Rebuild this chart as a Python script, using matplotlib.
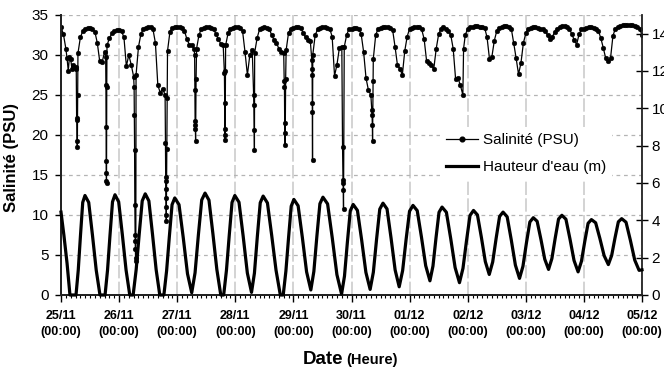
import numpy as np
import matplotlib.pyplot as plt
from matplotlib.ticker import MultipleLocator
from matplotlib.lines import Line2D

plt.rcParams['font.family'] = 'Liberation Sans'

# Day labels on the time axis (hours since 25/11 00:00)
day_labels = ['25/11', '26/11', '27/11', '28/11', '29/11', '30/11',
              '01/12', '02/12', '03/12', '04/12', '05/12']

# Salinity (PSU), hourly readings from t = 0 h to t = 240 h
sal_hourly = [
    # 25/11
    33.5, 32.6, 30.8, 28.0, 29.5, 28.8, 28.5, 30.2, 32.2, 33.0, 33.3, 33.4,
    33.4, 33.3, 32.9, 31.5, 29.2, 29.1, 30.4, 31.2, 32.1, 32.7, 33.0, 33.1,
    # 26/11
    33.1, 33.0, 32.2, 28.6, 30.0, 28.8, 27.3, 27.5, 31.0, 32.6, 33.3, 33.4,
    33.5, 33.5, 33.2, 31.5, 26.2, 25.3, 25.8, 25.0, 30.5, 32.9, 33.4, 33.5,
    # 27/11
    33.5, 33.5, 33.4, 33.0, 32.0, 31.3, 31.2, 30.8, 30.8, 32.5, 33.3, 33.4,
    33.5, 33.5, 33.4, 33.3, 32.6, 32.0, 31.4, 31.2, 31.2, 32.7, 33.3, 33.4,
    # 28/11
    33.5, 33.5, 33.4, 33.0, 30.4, 27.5, 30.0, 30.6, 30.3, 32.1, 33.2, 33.4,
    33.5, 33.4, 33.3, 32.5, 31.9, 31.5, 30.8, 30.4, 30.2, 30.6, 32.8, 33.3,
    # 29/11
    33.4, 33.5, 33.5, 33.4, 32.8, 32.2, 31.9, 31.7, 30.0, 32.5, 33.2, 33.4,
    33.5, 33.5, 33.4, 33.3, 32.3, 27.4, 28.8, 30.9, 31.0, 31.0, 32.5, 33.3,
    # 30/11
    33.3, 33.4, 33.4, 33.3, 32.6, 30.4, 27.1, 25.6, 25.0, 29.5, 32.5, 33.3,
    33.4, 33.5, 33.5, 33.5, 33.4, 33.1, 31.0, 28.7, 28.3, 27.5, 30.5, 32.3,
    # 01/12
    33.3, 33.4, 33.5, 33.5, 33.5, 33.2, 32.0, 29.3, 29.0, 28.7, 28.3, 30.8,
    32.6, 33.3, 33.5, 33.3, 33.0, 32.5, 30.8, 27.0, 27.1, 26.2, 25.0, 32.5,
    # 02/12
    33.3, 33.5, 33.5, 33.6, 33.6, 33.5, 33.5, 33.4, 32.2, 29.5, 29.8, 31.8,
    33.0, 33.4, 33.5, 33.6, 33.6, 33.5, 33.3, 31.5, 29.6, 27.6, 29.0, 31.5,
    # 03/12
    32.7, 33.3, 33.4, 33.5, 33.5, 33.4, 33.3, 33.3, 33.0, 32.5, 32.0, 32.3,
    32.9, 33.3, 33.5, 33.6, 33.6, 33.5, 33.3, 32.6, 31.9, 31.3, 32.6, 33.2,
    # 04/12 and 05/12 00:00
    33.3, 33.4, 33.5, 33.5, 33.4, 33.3, 33.0, 32.1, 30.9, 29.6, 29.3, 29.6,
    32.4, 33.3, 33.5, 33.6, 33.7, 33.7, 33.7, 33.7, 33.7, 33.6, 33.5, 33.3,
    32.5,
]

# Short salinity drops near low water, sampled finer than hourly
drop_t = [2.5, 3.5, 4.5,
          6.3, 6.45, 6.55, 6.65, 6.75, 6.9,
          18.45, 18.55, 18.6, 18.65, 18.7, 18.75, 18.8, 18.9,
          30.2, 30.3, 30.4, 30.5, 30.6, 30.65, 30.7, 30.8, 30.9,
          43.15, 43.2, 43.25, 43.3, 43.35, 43.4, 43.45, 43.5, 43.7, 43.85,
          55.2, 55.3, 55.4, 55.45, 55.5, 55.6, 55.8,
          67.5, 67.6, 67.7, 67.75, 67.8, 67.95,
          79.6, 79.7, 79.8, 79.9,
          92.2, 92.3, 92.4, 92.5, 92.6, 92.8,
          103.6, 103.7, 103.75, 103.8, 103.85, 103.9,
          116.3, 116.45, 116.5, 116.6, 116.7,
          128.4, 128.5, 128.6, 128.7, 128.9,
          166.3]
drop_v = [29.6, 29.8, 28.3,
          28.2, 22.1, 21.9, 19.2, 18.5, 25.0,
          29.8, 26.2, 21.0, 16.7, 15.2, 14.2, 14.0, 26.0,
          26.0, 22.5, 18.1, 11.2, 7.5, 6.7, 5.8, 4.6, 4.3,
          19.0, 14.8, 14.2, 13.3, 12.1, 11.0, 10.0, 9.2, 18.3, 24.6,
          30.0, 25.6, 21.7, 21.25, 20.8, 19.2, 27.0,
          27.7, 24.0, 20.8, 20.0, 19.4, 28.0,
          25.0, 23.75, 20.6, 18.1,
          26.7, 26.0, 21.5, 20.2, 18.75, 27.0,
          29.4, 28.3, 27.5, 24.0, 22.9, 16.9,
          18.5, 14.4, 14.0, 13.1, 10.75,
          23.1, 22.5, 21.25, 19.2, 26.7,
          30.8]

# Water height (m): hours and values along the tide curve
tide_t = [0, 1.2, 2.5, 3.7, 6.2, 7.125, 8.05, 8.975,
          9.9, 11.45, 13.0, 14.55, 16.1, 18.2, 19.225, 20.25, 21.275,
          22.3, 23.825, 25.35, 26.875, 28.4, 29.8, 31.05, 32.3, 33.55,
          34.8, 36.3, 37.8, 39.3, 40.8, 42.5, 43.625, 44.75, 45.875,
          47.0, 48.75, 50.5, 52.25, 54.0, 55.375, 56.75, 58.125,
          59.5, 61.125, 62.75, 64.375, 66.0, 67.2, 68.35, 69.5, 70.65,
          71.8, 73.525, 75.25, 76.975, 78.7, 79.9, 81.1, 82.3,
          83.5, 85.275, 87.05, 88.825, 90.6, 91.8, 92.9, 94.0, 95.1,
          96.2, 97.95, 99.7, 101.45, 103.2, 104.45, 105.7, 106.95,
          108.2, 110.125, 112.05, 113.975, 115.9, 117.1, 118.3, 119.5,
          120.7, 122.45, 124.2, 125.95, 127.7, 129.025, 130.35, 131.675,
          133.0, 134.675, 136.35, 138.025, 139.7, 141.125, 142.55, 143.975,
          145.4, 147.15, 148.9, 150.65, 152.4, 153.65, 154.9, 156.15,
          157.4, 159.2, 161.0, 162.8, 164.6, 166.05, 167.5, 168.95,
          170.4, 172.025, 173.65, 175.275, 176.9, 178.325, 179.75, 181.175,
          182.6, 184.3, 186.0, 187.7, 189.4, 190.825, 192.25, 193.675,
          195.1, 196.675, 198.25, 199.825, 201.4, 202.775, 204.15, 205.525,
          206.9, 208.575, 210.25, 211.925, 213.6, 214.975, 216.35, 217.725,
          219.1, 220.85, 222.6, 224.35, 226.1, 227.475, 228.85, 230.225,
          231.6, 233.4, 235.2, 237.0, 238.8, 240.0]
tide_h = [4.44, 3.2, 1.7, 0.0, 0.0, 1.33, 3.20, 4.96,
          5.33, 4.96, 3.20, 1.33, 0.0, 0.0, 1.34, 3.22, 4.99,
          5.37, 4.99, 3.22, 1.34, 0.0, 0.0, 1.36, 3.25, 5.04,
          5.42, 5.04, 3.25, 1.36, 0.0, 0.0, 1.30, 3.12, 4.84,
          5.20, 4.84, 3.07, 1.14, 0.12, 1.19, 3.22, 5.09,
          5.46, 5.08, 3.28, 1.37, 0.0, 0.0, 1.33, 3.20, 4.96,
          5.33, 4.97, 3.15, 1.18, 0.14, 1.17, 3.13, 4.94,
          5.30, 4.93, 3.18, 1.33, 0.0, 0.0, 1.28, 3.07, 4.76,
          5.12, 4.78, 3.08, 1.24, 0.27, 1.26, 3.15, 4.89,
          5.24, 4.88, 3.06, 1.09, 0.05, 1.01, 2.83, 4.51,
          4.85, 4.53, 2.94, 1.21, 0.30, 1.22, 2.98, 4.60,
          4.92, 4.61, 3.04, 1.34, 0.44, 1.31, 2.97, 4.49,
          4.80, 4.52, 3.10, 1.57, 0.76, 1.55, 3.05, 4.43,
          4.71, 4.43, 3.01, 1.47, 0.66, 1.43, 2.90, 4.26,
          4.53, 4.29, 3.09, 1.79, 1.10, 1.77, 3.04, 4.21,
          4.44, 4.19, 2.95, 1.60, 0.89, 1.54, 2.78, 3.91,
          4.14, 3.95, 2.98, 1.92, 1.37, 1.95, 3.05, 4.07,
          4.27, 4.06, 3.00, 1.85, 1.24, 1.80, 2.86, 3.84,
          4.04, 3.87, 3.03, 2.11, 1.63, 2.12, 3.06, 3.92,
          4.09, 3.90, 2.93, 1.87, 1.32, 1.35]

# Merge hourly and fine salinity samples in time order
sal_t = np.concatenate([np.arange(len(sal_hourly), dtype=float), drop_t])
sal_v = np.concatenate([sal_hourly, drop_v])
order = np.argsort(sal_t, kind='stable')
sal_t, sal_v = sal_t[order], sal_v[order]

fig = plt.figure(figsize=(6.64, 3.70), dpi=100)
ax1 = fig.add_axes([61 / 664, 75 / 370, 581 / 664, 280 / 370])
ax2 = ax1.twinx()

# Grid: short dashes for salinity levels, long light dashes for days
ax1.grid(axis='y', linestyle=(0, (3, 3)), color='#b4b4b4', linewidth=0.9)
ax1.grid(axis='x', which='major', linestyle=(0, (8, 2)), color='#cccccc', linewidth=1.2)
ax1.set_axisbelow(True)

ax1.plot(sal_t, sal_v, color='black', linewidth=0.9, marker='o',
         markersize=3.4, markeredgewidth=0.3, zorder=3)
ax2.plot(tide_t, tide_h, color='black', linewidth=2.3, clip_on=False,
         solid_joinstyle='round', zorder=3)

ax1.set_xlim(0, 240)
ax1.set_ylim(0, 35)
ax2.set_ylim(0, 15)

ax1.xaxis.set_major_locator(MultipleLocator(24))
ax1.xaxis.set_minor_locator(MultipleLocator(2))
ax1.set_xticks(np.arange(0, 241, 24))
ax1.set_xticklabels([d + '\n(00:00)' for d in day_labels],
                    fontweight='bold', linespacing=1.45)
ax1.set_yticks(np.arange(0, 36, 5))
ax2.set_yticks(np.arange(0, 15, 2))

ax1.tick_params(axis='y', direction='out', length=4, width=1, pad=5, labelsize=11)
ax1.tick_params(axis='x', which='major', direction='out', length=5, width=1,
                pad=6, labelsize=9)
ax1.tick_params(axis='x', which='minor', direction='out', length=2.5, width=0.8)
ax2.tick_params(axis='y', direction='inout', length=8, width=1, pad=3, labelsize=11)

for ax in (ax1, ax2):
    ax.spines['top'].set_visible(False)
    for side in ('left', 'bottom', 'right'):
        ax.spines[side].set_linewidth(1.3)
        ax.spines[side].set_color('#222222')
ax1.spines['right'].set_visible(False)

fig.text(0.018, 0.575, 'Salinité (PSU)', rotation=90, ha='center', va='center',
         fontsize=12, fontweight='bold')
fig.text(343 / 664, 6 / 370, 'Date', ha='right', va='baseline',
         fontsize=13.5, fontweight='bold')
fig.text(346 / 664, 6 / 370, '(Heure)', ha='left', va='baseline',
         fontsize=10.5, fontweight='bold')

handles = [Line2D([], [], color='black', linewidth=0.9, marker='o', markersize=3.4),
           Line2D([], [], color='black', linewidth=2.3)]
ax2.legend(handles, ['Salinité (PSU)', "Hauteur d'eau (m)"], loc='upper left',
           bbox_to_anchor=(0.652, 0.60), frameon=True, fancybox=False,
           edgecolor='none', facecolor='white', framealpha=1, fontsize=11,
           handlelength=2.1, handletextpad=0.3, borderpad=0.4,
           labelspacing=0.85, borderaxespad=0)

fig.savefig('out.png', dpi=100)
